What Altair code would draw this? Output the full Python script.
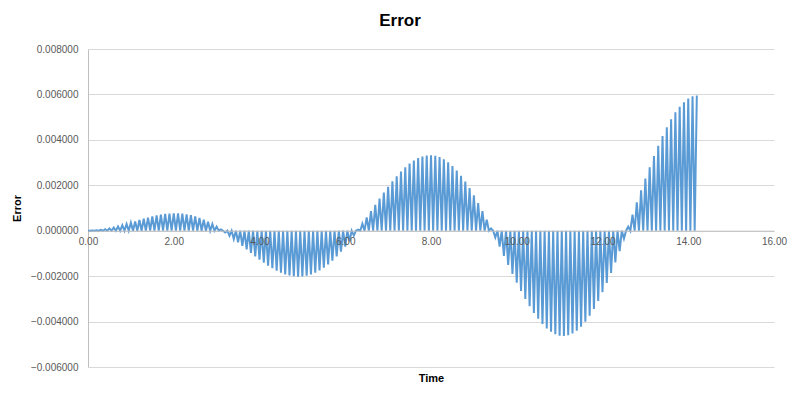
import altair as alt
import pandas as pd

# Peak value of each oscillation (in units of 1e-6), one every 0.1 time units, t = 0.1 .. 14.2
peak_values_e6 = [
    4, 17, 37, 65, 101, 142, 189, 241, 296, 353,
    412, 470, 526, 579, 628, 672, 708, 736, 755, 764,
    761, 747, 720, 681, 628, 563, 485, 394, 291, 178,
    54, -78, -219, -365, -516, -669, -823, -977, -1127, -1271,
    -1409, -1537, -1655, -1759, -1847, -1920, -1974, -2008, -2022, -2014,
    -1983, -1930, -1853, -1753, -1630, -1485, -1318, -1132, -927, -704,
    -467, -216, 44, 313, 587, 863, 1139, 1411, 1676, 1932,
    2174, 2400, 2607, 2793, 2955, 3090, 3196, 3271, 3314, 3324,
    3300, 3240, 3145, 3015, 2851, 2653, 2423, 2162, 1873, 1558,
    1220, 861, 486, 98, -300, -703, -1107, -1509, -1902, -2285,
    -2652, -3000, -3324, -3620, -3880, -4108, -4299, -4451, -4561, -4620,
    -4636, -4606, -4529, -4405, -4229, -4009, -3745, -3440, -3096, -2704,
    -2301, -1862, -1392, -897, -348, 178, 709, 1245, 1778, 2294,
    2797, 3283, 3744, 4174, 4558, 4907, 5210, 5462, 5659, 5825,
    5918, 5956,
]
sample_step = 0.05  # time between a baseline sample and a peak sample
x_ticks = [0, 2, 4, 6, 8, 10, 12, 14, 16]
y_ticks = [-0.006, -0.004, -0.002, 0.0, 0.002, 0.004, 0.006, 0.008]

rows = [{"Time": 0.0, "Error": 0.0}]
for k, p in enumerate(peak_values_e6):
    peak_t = round((2 * k + 2) * sample_step, 4)
    rows.append({"Time": round(peak_t - sample_step, 4), "Error": 0.0})
    rows.append({"Time": peak_t, "Error": p * 1e-6})
df = pd.DataFrame(rows)
df["i"] = range(len(df))

FONT = "Liberation Sans"
W, H = 686, 318
zero_px = H * 0.008 / 0.014

chart = (
    alt.Chart(df)
    .mark_line(color="#5B9BD5", strokeWidth=2)
    .encode(
        x=alt.X(
            "Time:Q",
            scale=alt.Scale(domain=[0, 16], nice=False, zero=False),
            axis=alt.Axis(
                values=x_ticks,
                format=".2f",
                offset=-(H - zero_px),
                grid=False,
                ticks=False,
                domainColor="#bfbfbf",
                labelColor="#595959",
                labelFont=FONT,
                labelFontSize=10,
                labelPadding=6,
                title="Time",
                titleFont=FONT,
                titleFontSize=11,
                titleFontWeight="bold",
                titleColor="#000000",
                titleBaseline="middle",
                titleY=(378 - 49) - zero_px,
                labelFlush=False,
                zindex=1,
            ),
        ),
        y=alt.Y(
            "Error:Q",
            scale=alt.Scale(domain=[-0.006, 0.008], nice=False, zero=False),
            axis=alt.Axis(
                values=y_ticks,
                format=".6f",
                grid=True,
                gridColor="#d9d9d9",
                ticks=False,
                domainColor="#bfbfbf",
                labelColor="#595959",
                labelFont=FONT,
                labelFontSize=10,
                labelPadding=10,
                title="Error",
                titleFont=FONT,
                titleFontSize=11,
                titleFontWeight="bold",
                titleColor="#000000",
                titlePadding=8,
            ),
        ),
        order="i:Q",
    )
    .properties(
        width=W,
        height=H,
        autosize=alt.AutoSizeParams(type="none"),
        padding={"left": 88, "top": 49, "right": 26, "bottom": 31},
        title=alt.TitleParams(
            "Error",
            font=FONT,
            fontSize=17,
            fontWeight="bold",
            color="#000000",
            anchor="middle",
            dx=-31,
            offset=14,
        ),
    )
    .configure_view(stroke=None)
)

chart.save("out.html", embed_options={"renderer": "svg", "actions": False})
